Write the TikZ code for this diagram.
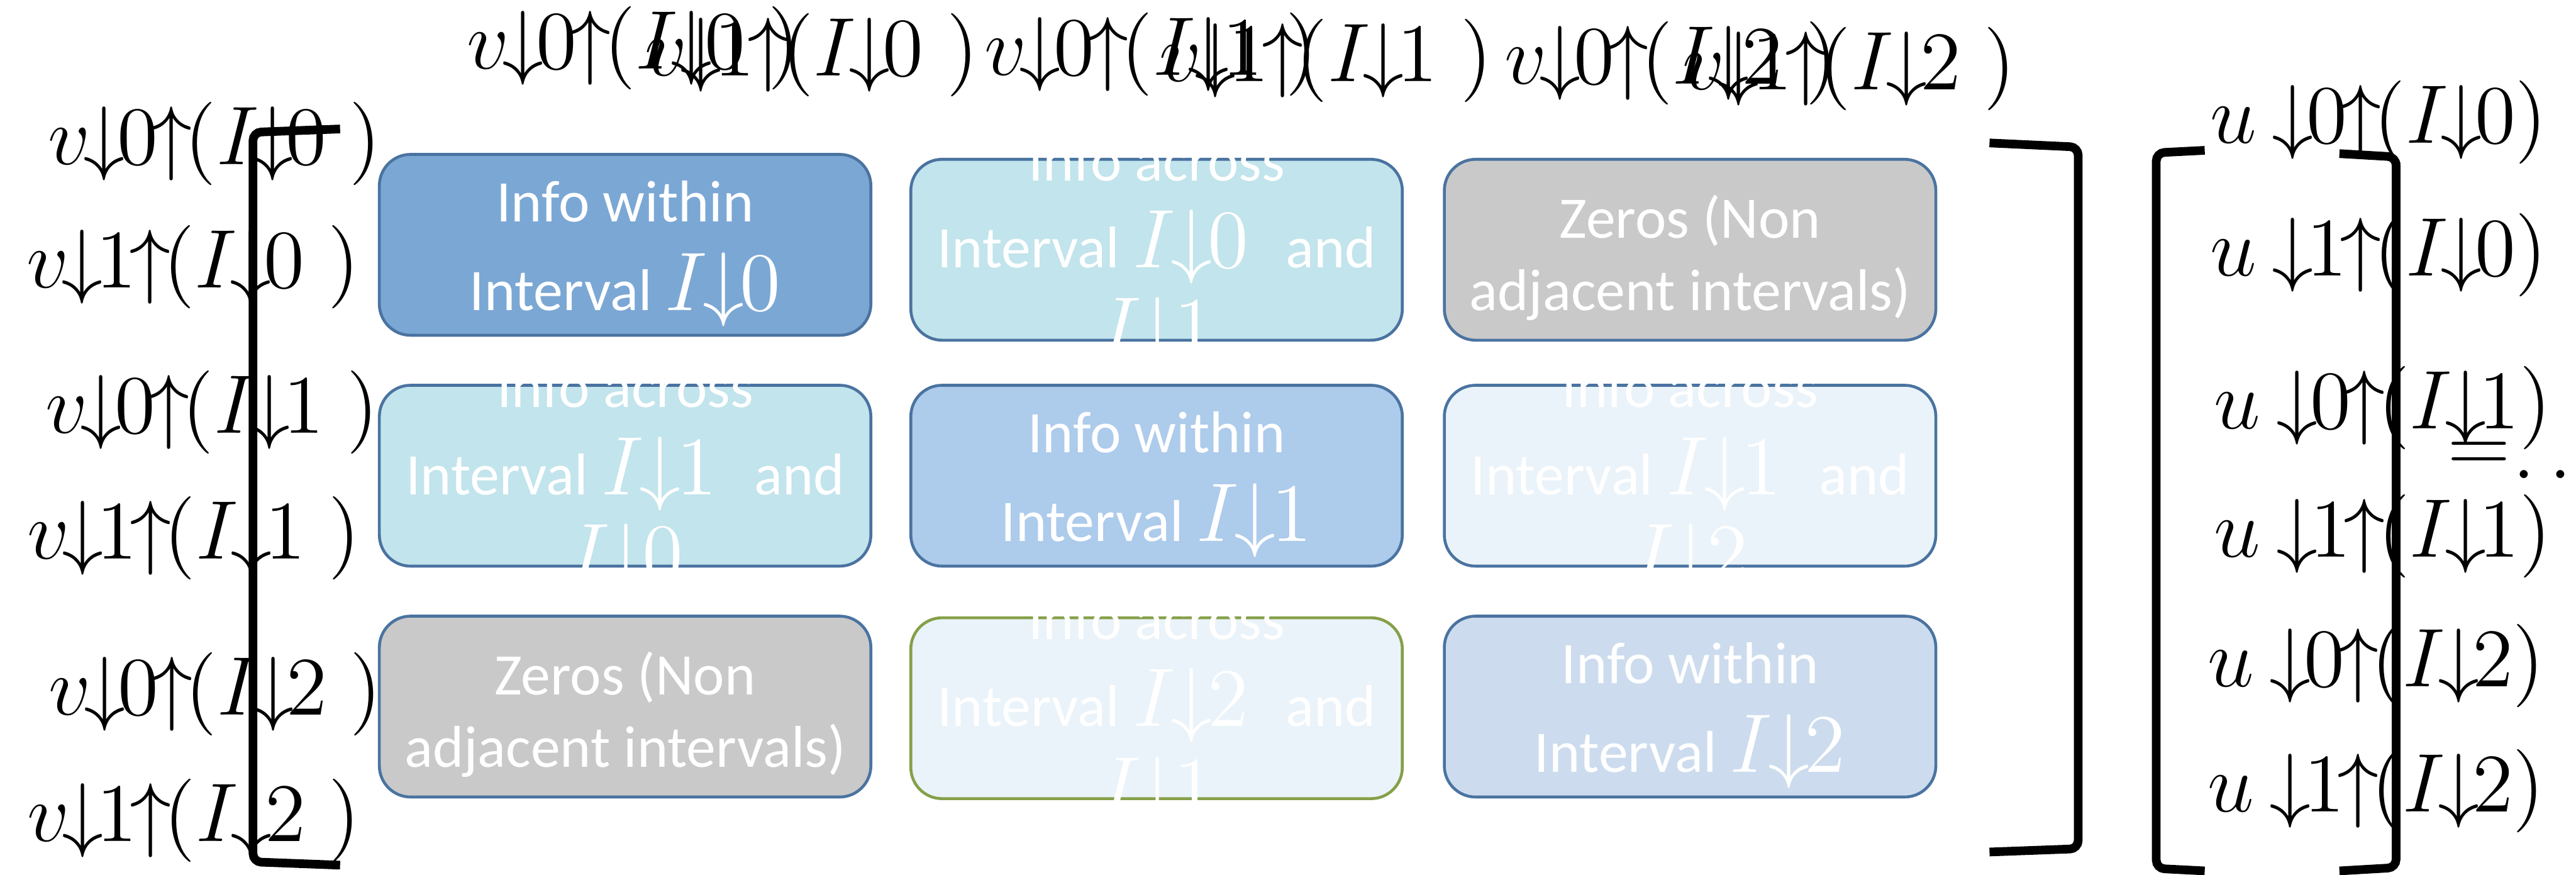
\documentclass[tikz,border=0pt]{standalone}
\usepackage{fontspec}
\setmainfont{Carlito}
\definecolor{cwithin}{HTML}{7BA7D4}
\definecolor{ccyan}{HTML}{C2E4EC}
\definecolor{cgray}{HTML}{C9C9C9}
\definecolor{cmid}{HTML}{ADCBEB}
\definecolor{cpale}{HTML}{EAF3F9}
\definecolor{clast}{HTML}{CCDCEE}
\definecolor{cborder}{HTML}{4A73A0}
\definecolor{cgreen}{HTML}{85A048}
\newcommand\mathsz{\fontsize{13.5}{14}\selectfont}
\newcommand\kk{\mkern-1.6mu}
\newcommand\Iv[1]{{\mathsz$I\mkern-1mu{\downarrow}\mkern-1mu#1$}}
\newcommand\vlab[2]{{\mathsz$v\kk{\downarrow}\kk#1\kk{\uparrow}\kk(I\kk{\downarrow}\kk#2\;)$}}
\newcommand\ulab[2]{{\mathsz$u\;\kk{\downarrow}\kk#1\kk{\uparrow}\kk(I\kk{\downarrow}\kk#2)$}}
\tikzset{
  mbox/.style={draw=cborder, line width=0.5pt, rounded corners=0.19cm,
    minimum width=2.99cm, minimum height=1.10cm, inner sep=0pt},
  txt/.style={text=white, font=\fontsize{10.2}{12}\selectfont, anchor=base, inner sep=0pt},
  lab/.style={anchor=base west, inner sep=0pt},
  brk/.style={line width=1.5pt, rounded corners=0.05cm}
}
\begin{document}
\begin{tikzpicture}[x=0.01cm,y=-0.01cm]
\useasboundingbox (0,0) rectangle (1568,532.3);
% boxes
\node[mbox, fill=cwithin] (b11) at (380.5,149) {};
\node[mbox, fill=ccyan]   (b12) at (704,152) {};
\node[mbox, fill=cgray]   (b13) at (1028.75,152) {};
\node[mbox, fill=ccyan]   (b21) at (380.5,289.5) {};
\node[mbox, fill=cmid]    (b22) at (704,289.5) {};
\node[mbox, fill=cpale]   (b23) at (1028.75,289.5) {};
\node[mbox, fill=cgray]   (b31) at (380.5,430) {};
\node[mbox, fill=cpale, draw=cgreen] (b32) at (704,431) {};
\node[mbox, fill=clast]   (b33) at (1028.75,430) {};
% box texts
\node[txt] (t11a) at (380.5,135) {Info within};
\node[txt] (t11b) at (380.5,189) {Interval \Iv{0}};
\node[txt] (t12a) at (704,110) {Info across};
\node[txt] (t12b) at (704,163) {Interval \Iv{0}\hspace{6.5pt}and};
\node[txt] (t12c) at (704,216) {\Iv{1}};
\node[txt] (t13a) at (1028.75,145) {Zeros (Non};
\node[txt] (t13b) at (1028.75,189) {adjacent intervals)};
\node[txt] (t21a) at (380.5,248) {Info across};
\node[txt] (t21b) at (380.5,301) {Interval \Iv{1}\hspace{6.5pt}and};
\node[txt] (t21c) at (380.5,354) {\Iv{0}};
\node[txt] (t22a) at (704,275.5) {Info within};
\node[txt] (t22b) at (704,329.5) {Interval \Iv{1}};
\node[txt] (t23a) at (1028.75,248) {Info across};
\node[txt] (t23b) at (1028.75,301) {Interval \Iv{1}\hspace{6.5pt}and};
\node[txt] (t23c) at (1028.75,354) {\Iv{2}};
\node[txt] (t31a) at (380.5,423) {Zeros (Non};
\node[txt] (t31b) at (380.5,467) {adjacent intervals)};
\node[txt] (t32a) at (704,389) {Info across};
\node[txt] (t32b) at (704,442) {Interval \Iv{2}\hspace{6.5pt}and};
\node[txt] (t32c) at (704,496) {\Iv{1}};
\node[txt] (t33a) at (1028.75,416) {Info within};
\node[txt] (t33b) at (1028.75,470) {Interval \Iv{2}};
% top labels
\node[lab] (ta1) at (283.6,42) {\vlab{0}{0}};
\node[lab] (tb1) at (392,46) {\vlab{1}{0}};
\node[lab] (ta2) at (598.5,45.6) {\vlab{0}{1}};
\node[lab] (tb2) at (705,49.4) {\vlab{1}{1}};
\node[lab] (ta3) at (915,51) {\vlab{0}{2}};
\node[lab] (tb3) at (1023.5,54.6) {\vlab{1}{2}};
% left labels
\node[lab] (l1) at (28.6,100) {\vlab{0}{0}};
\node[lab] (l2) at (15.4,175) {\vlab{1}{0}};
\node[lab] (l3) at (27,263.7) {\vlab{0}{1}};
\node[lab] (l4) at (15.9,340) {\vlab{1}{1}};
\node[lab] (l5) at (29,435) {\vlab{0}{2}};
\node[lab] (l6) at (15.9,512) {\vlab{1}{2}};
% right labels
\node[lab] (r1) at (1344.6,87) {\ulab{0}{0}};
\node[lab] (r2) at (1344.6,168) {\ulab{1}{0}};
\node[lab] (r3) at (1347,261) {\ulab{0}{1}};
\node[lab] (r4) at (1347,339) {\ulab{1}{1}};
\node[lab] (r5) at (1343,418) {\ulab{0}{2}};
\node[lab] (r6) at (1343,494) {\ulab{1}{2}};
\node[inner sep=0pt] (eq) at (1509,278) {\mathsz$=$};
\node[lab] (dots) at (1529,291) {\mathsz$\ldots$};
% brackets
\draw[brk] (207,78.5) -- (154,80.5) -- (154,524.5) -- (207,526.5);
\draw[brk] (1211,87) -- (1265,89.5) -- (1265,516.5) -- (1211,518.5);
\draw[brk] (1342,91.5) -- (1312.5,93) -- (1312.5,528.5) -- (1342,530);
\draw[brk] (1424,93.5) -- (1458.5,95.5) -- (1458.5,528) -- (1424,530);
\end{tikzpicture}
\end{document}
